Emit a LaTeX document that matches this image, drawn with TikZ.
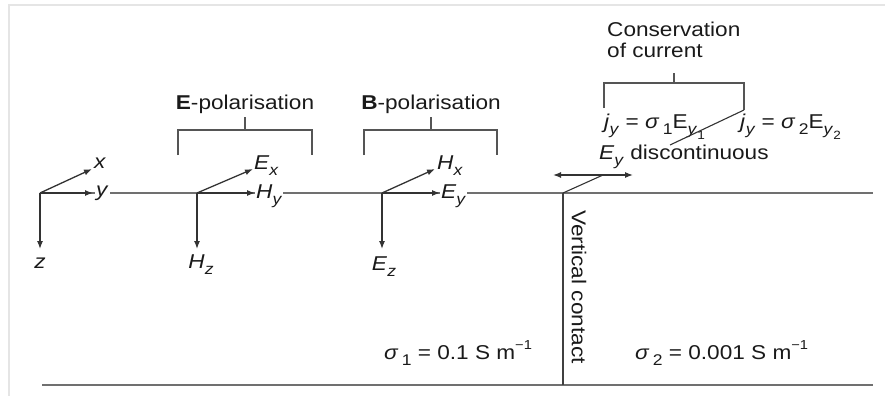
\documentclass[tikz,border=0pt]{standalone}
\usepackage{fontspec}
\setmainfont{Liberation Sans}[FakeStretch=1.13]
\usetikzlibrary{arrows.meta}
\newcommand\mysub[1]{\raisebox{-0.3em}{\fontsize{15.5}{15.5}\selectfont #1}}
\newcommand\mysubsub[1]{\raisebox{-0.55em}{\fontsize{12}{12}\selectfont #1}}
\newcommand\mysup[1]{\raisebox{0.5em}{\fontsize{13}{13}\selectfont #1}}
\definecolor{txt}{HTML}{1A1A1A}
\definecolor{ln}{HTML}{707070}
\definecolor{br}{HTML}{555555}
\begin{document}
\begin{tikzpicture}[x=1pt,y=-1pt,
  font=\fontsize{20}{21}\selectfont, text=txt,
  axis/.style={line width=1.3pt, draw=black!80, -{Latex[length=8pt,width=6pt]}},
  dblarrow/.style={line width=1.3pt, draw=black!80, {Latex[length=8pt,width=6pt]}-{Latex[length=8pt,width=6pt]}},
  ground/.style={line width=2.4pt, draw=ln},
  brack/.style={line width=1.5pt, draw=br},
  thin/.style={line width=1.1pt, draw=black!80},
  lab/.style={fill=white, inner sep=1pt},
  plain/.style={inner sep=1pt}]
\useasboundingbox (0,0) rectangle (885,396);
% frame
\draw[line width=1.5pt, draw=black!10] (9,396) -- (9,5) -- (885,5);

% ground lines
\coordinate (sL) at (40,193);
\coordinate (sR) at (873,193);
\coordinate (bL) at (42,385);
\coordinate (bR) at (873,385);
\coordinate (vT) at (563,193);
\coordinate (vB) at (563,385);
\draw[ground] (sL) -- (sR);
\draw[ground] (bL) -- (bR);
\draw[line width=1.6pt, draw=black!75] (vT) -- (vB);

% axes
\coordinate (O1) at (40,193);
\coordinate (X1) at (92,169);
\coordinate (Y1) at (93,193);
\coordinate (Z1) at (40,249);
\draw[axis] (O1) -- (X1);
\draw[axis] (O1) -- (Y1);
\draw[axis] (O1) -- (Z1);
\node[plain, anchor=west] (xl) at (93,163) {\textit{x}};
\node[lab, anchor=west] (yl) at (95,193) {\textit{y}};
\node[plain] (zl) at (40,263) {\textit{z}};

% E-polarisation
\coordinate (O2) at (197,193);
\coordinate (X2) at (253,169);
\coordinate (Y2) at (255,193);
\coordinate (Z2) at (197,249);
\draw[axis] (O2) -- (X2);
\draw[axis] (O2) -- (Y2);
\draw[axis] (O2) -- (Z2);
\node[plain, anchor=west] (Exl) at (253,166) {\textit{E}\mysub{\textit{x}}};
\node[lab, anchor=west] (Hyl) at (255,196) {\textit{H}\mysub{\textit{y}}};
\node[plain] (Hzl) at (201,265) {\textit{H}\mysub{\textit{z}}};
\coordinate (e1) at (178,155);
\coordinate (e2) at (178,130);
\coordinate (e3) at (312,130);
\coordinate (e4) at (312,155);
\coordinate (e5) at (245,130);
\coordinate (e6) at (245,117);
\draw[brack] (e1) -- (e2) -- (e3) -- (e4);
\draw[brack] (e5) -- (e6);
\node[plain] (Epol) at (245,104) {\textbf{E}-polarisation};

% B-polarisation
\coordinate (O3) at (382,193);
\coordinate (X3) at (435,169);
\coordinate (Y3) at (440,193);
\coordinate (Z3) at (382,249);
\draw[axis] (O3) -- (X3);
\draw[axis] (O3) -- (Y3);
\draw[axis] (O3) -- (Z3);
\node[plain, anchor=west] (Hxl) at (436,166) {\textit{H}\mysub{\textit{x}}};
\node[lab, anchor=west] (Eyl) at (440,196) {\textit{E}\mysub{\textit{y}}};
\node[plain] (Ezl) at (384,267) {\textit{E}\mysub{\textit{z}}};
\coordinate (b1) at (364,155);
\coordinate (b2) at (364,130);
\coordinate (b3) at (497,130);
\coordinate (b4) at (497,155);
\coordinate (b5) at (431,130);
\coordinate (b6) at (431,117);
\draw[brack] (b1) -- (b2) -- (b3) -- (b4);
\draw[brack] (b5) -- (b6);
\node[plain] (Bpol) at (431,104) {\textbf{B}-polarisation};

% conservation of current
\node[plain, anchor=west, align=left] (cons) at (606,40) {Conservation\\of current};
\coordinate (c1) at (604,108);
\coordinate (c2) at (604,83);
\coordinate (c3) at (744,83);
\coordinate (c4) at (744,110);
\coordinate (c5) at (674,83);
\coordinate (c6) at (674,73);
\draw[brack] (c1) -- (c2) -- (c3) -- (c4);
\draw[brack] (c5) -- (c6);
\node[plain, anchor=west] (j1) at (603,127) {\textit{j}\mysub{\textit{y}} = \textit{σ}\,\mysub{1}E\mysub{\textit{y}}\mysubsub{1}};
\node[plain, anchor=west] (j2) at (739,127) {\textit{j}\mysub{\textit{y}} = \textit{σ}\,\mysub{2}E\mysub{\textit{y}}\mysubsub{2}};
\coordinate (d1) at (670,145);
\draw[thin] (c4) -- (d1);
\node[plain, anchor=west] (disc) at (598,157) {\textit{E}\mysub{\textit{y}} discontinuous};
\coordinate (a1) at (553,175);
\coordinate (a2) at (633,175);
\coordinate (a3) at (603,175);
\draw[dblarrow] (a1) -- (a2);
\draw[thin] (a3) -- (vT);

% bottom labels
\node[plain, anchor=west] (s1) at (383,353) {\textit{σ}\,\mysub{1} = 0.1 S m\mysup{−1}};
\node[plain, anchor=west] (s2) at (634,353) {\textit{σ}\,\mysub{2} = 0.001 S m\mysup{−1}};
\node[plain, rotate=-90] (vc) at (579,287) {Vertical contact};
\end{tikzpicture}
\end{document}
